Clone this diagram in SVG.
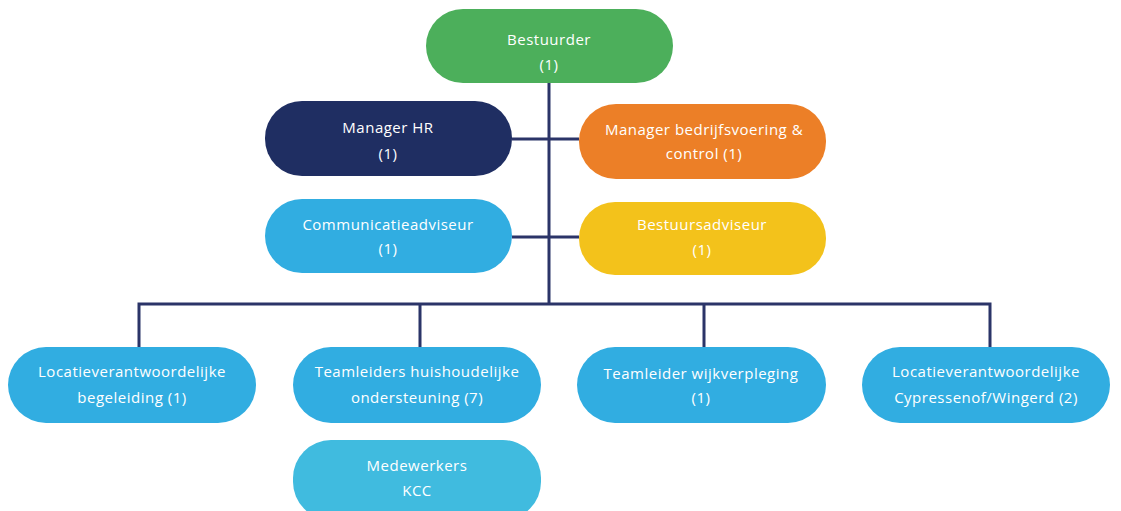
<svg xmlns="http://www.w3.org/2000/svg" width="1121" height="511" viewBox="0 0 1121 511">
<style>
.t{font-family:"Open Sans","Liberation Sans",sans-serif;font-size:15px;letter-spacing:0.5px;fill:#ffffff;text-anchor:middle;dominant-baseline:central}
.c{stroke:#2B3468;stroke-width:3;fill:none}
</style>
<rect width="1121" height="511" fill="#ffffff"/>
<g id="connectors">
<path class="c" d="M549 83V304M512 139H579M512 237H579M139 304H990M139 302.5V348M420 302.5V348M704 302.5V348M990 302.5V348"/>
</g>
<g id="bestuurder">
<rect x="426" y="9" width="247" height="74" rx="37" fill="#4CAF5B"/>
<text class="t" x="549" y="39">Bestuurder</text>
<text class="t" x="549" y="64">(1)</text>
</g>
<g id="manager-hr">
<rect x="265" y="101" width="247" height="75" rx="37" fill="#1F2E62"/>
<text class="t" x="388" y="127">Manager HR</text>
<text class="t" x="388" y="153">(1)</text>
</g>
<g id="manager-bedrijfsvoering">
<rect x="579" y="104" width="247" height="75" rx="37" fill="#EC7F27"/>
<text class="t" x="704" y="129">Manager bedrijfsvoering &amp;</text>
<text class="t" x="704" y="153">control (1)</text>
</g>
<g id="communicatieadviseur">
<rect x="265" y="199" width="247" height="74" rx="37" fill="#31ADE1"/>
<text class="t" x="388" y="224">Communicatieadviseur</text>
<text class="t" x="388" y="248">(1)</text>
</g>
<g id="bestuursadviseur">
<rect x="579" y="202" width="247" height="73" rx="36" fill="#F3C21B"/>
<text class="t" x="702" y="224">Bestuursadviseur</text>
<text class="t" x="702" y="249">(1)</text>
</g>
<g id="locatie-begeleiding">
<rect x="8" y="347" width="248" height="76" rx="38" fill="#31ADE1"/>
<text class="t" x="132" y="371">Locatieverantwoordelijke</text>
<text class="t" x="132" y="397">begeleiding (1)</text>
</g>
<g id="teamleiders-huishoudelijk">
<rect x="293" y="347" width="248" height="76" rx="38" fill="#31ADE1"/>
<text class="t" x="417" y="371">Teamleiders huishoudelijke</text>
<text class="t" x="417" y="397">ondersteuning (7)</text>
</g>
<g id="teamleider-wijkverpleging">
<rect x="577" y="347" width="249" height="76" rx="38" fill="#31ADE1"/>
<text class="t" x="701" y="373">Teamleider wijkverpleging</text>
<text class="t" x="701" y="397">(1)</text>
</g>
<g id="locatie-cypressenof">
<rect x="862" y="347" width="248" height="76" rx="38" fill="#31ADE1"/>
<text class="t" x="986" y="371">Locatieverantwoordelijke</text>
<text class="t" x="986" y="397">Cypressenof/Wingerd (2)</text>
</g>
<g id="medewerkers-kcc">
<rect x="293" y="440" width="248" height="80" rx="38" fill="#40BBDF"/>
<text class="t" x="417" y="465">Medewerkers</text>
<text class="t" x="417" y="490">KCC</text>
</g>
</svg>
